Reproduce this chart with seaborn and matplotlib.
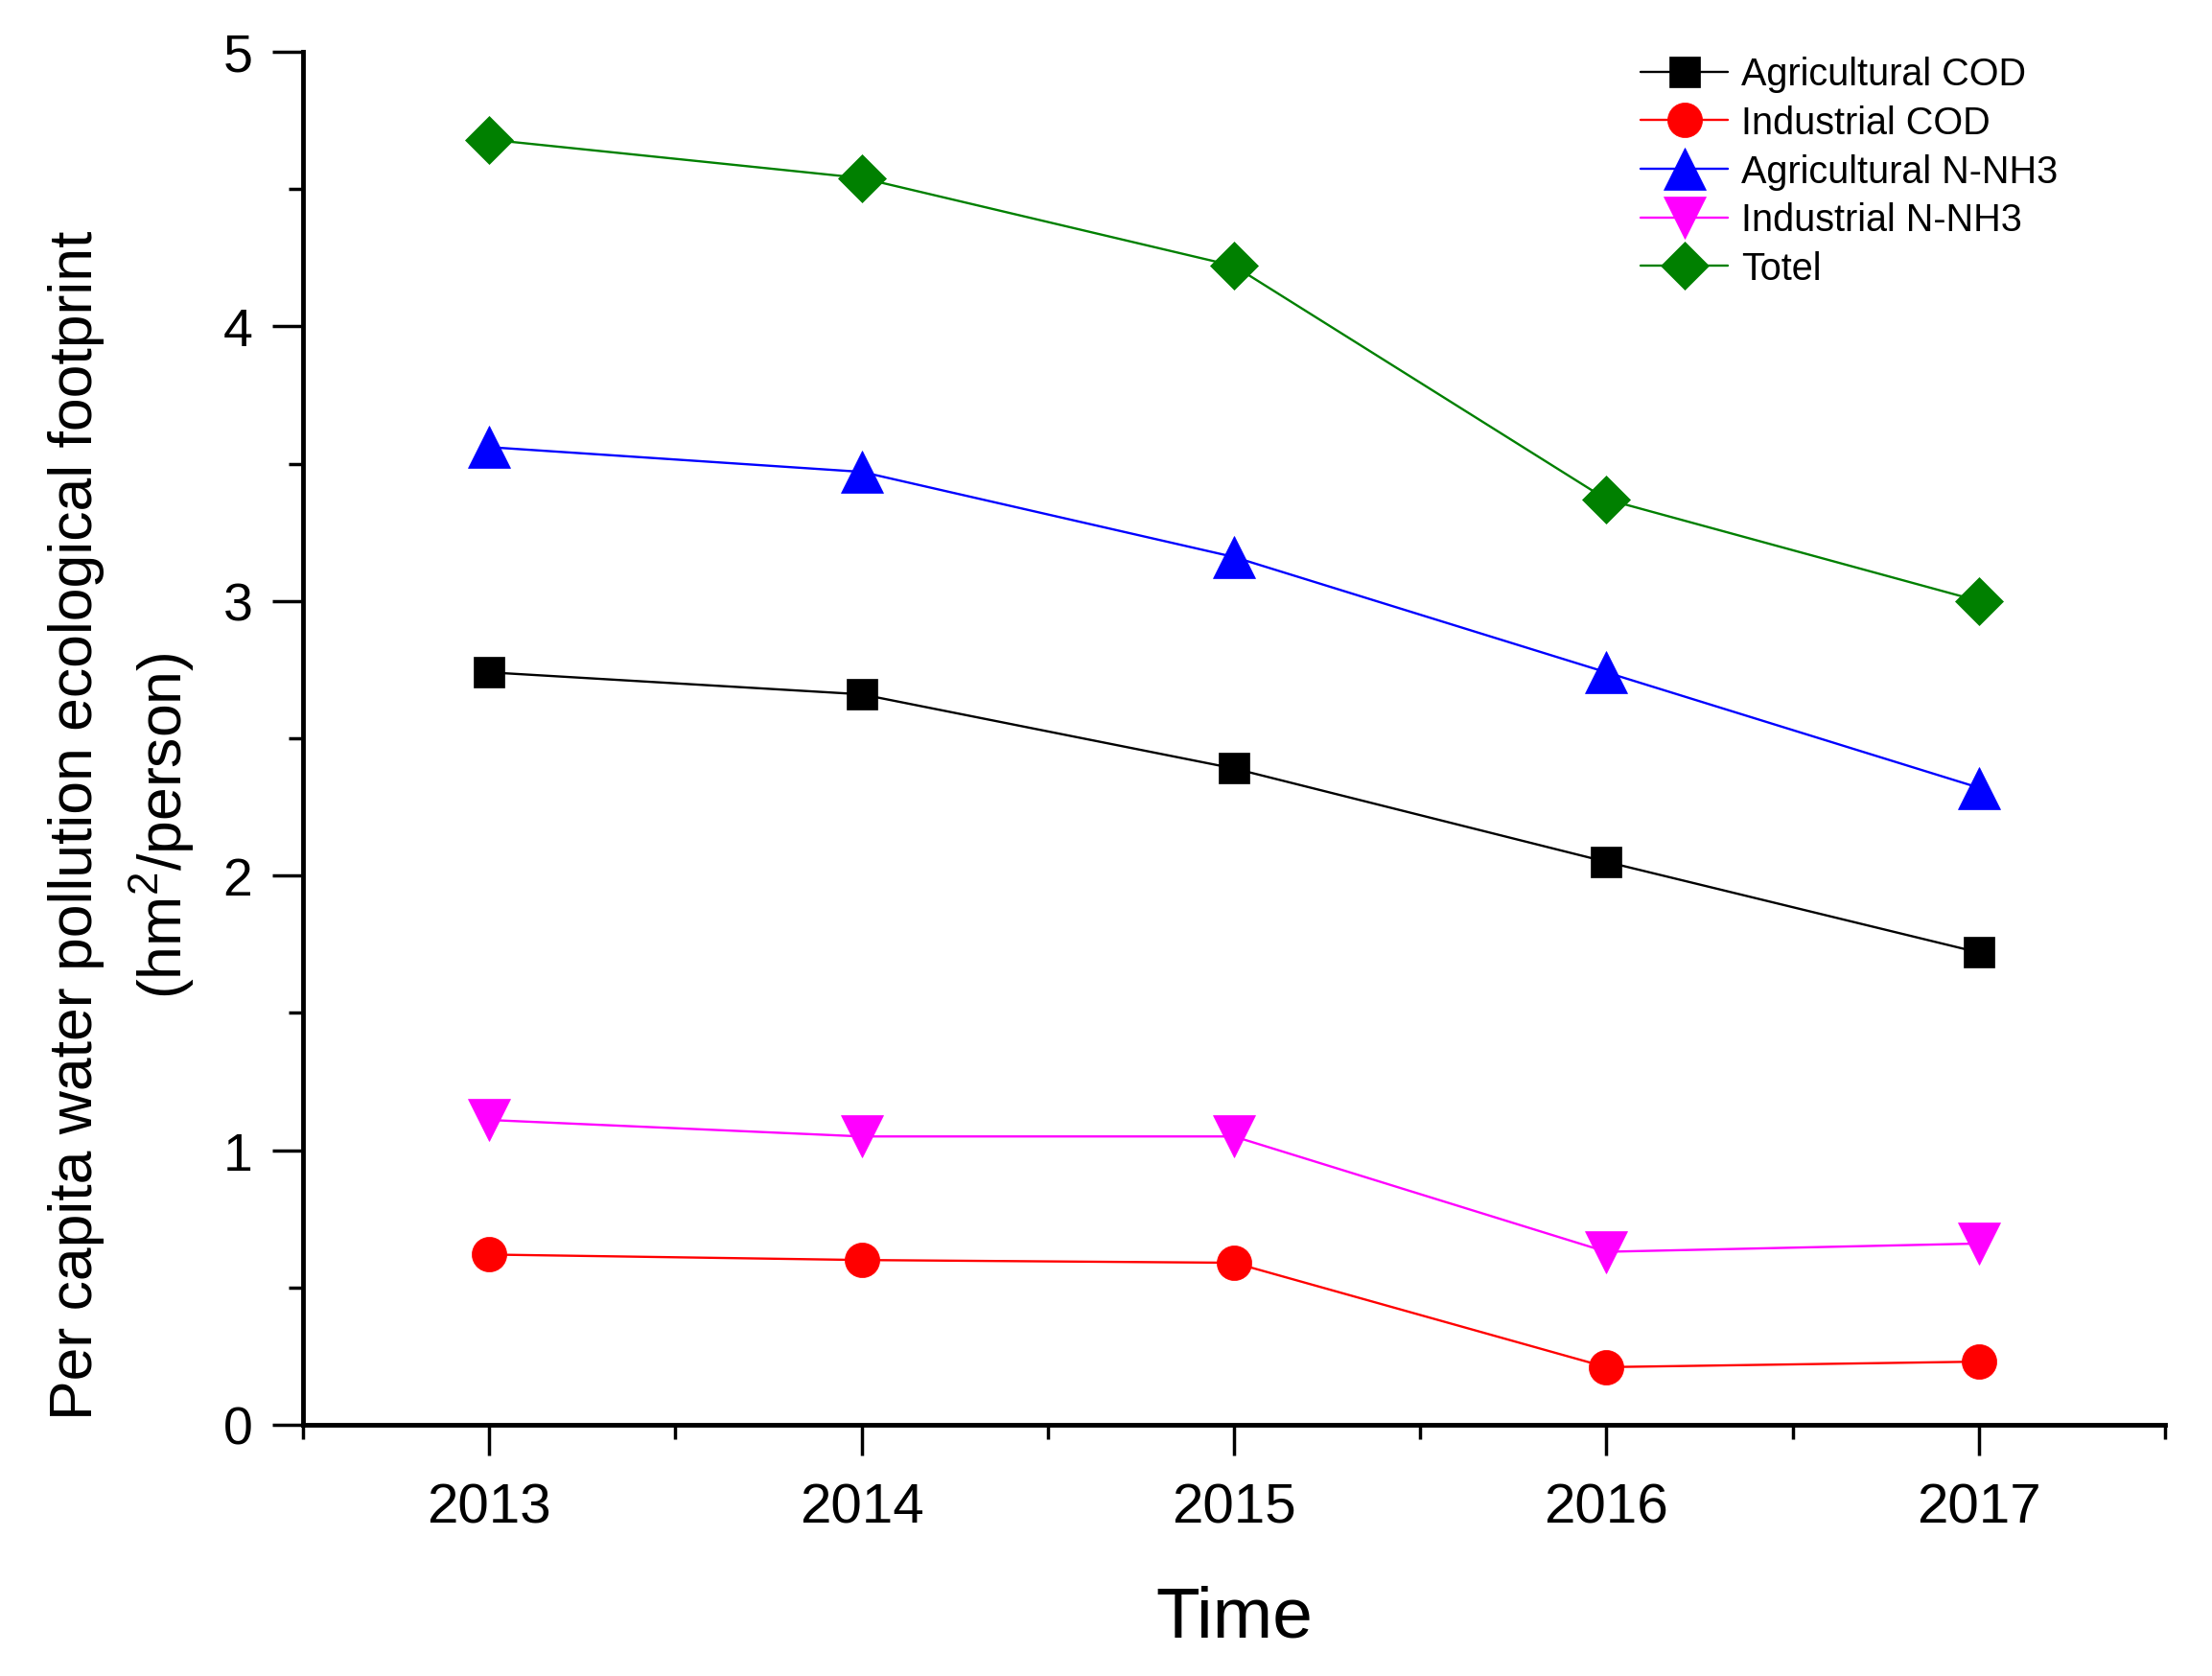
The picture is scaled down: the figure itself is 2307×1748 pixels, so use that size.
import pandas as pd
import matplotlib.pyplot as plt
import seaborn as sns
from matplotlib.ticker import MultipleLocator

# ==========================
# Data
# ==========================
years = [2013, 2014, 2015, 2016, 2017]
agri_cod = [2.74, 2.66, 2.39, 2.05, 1.72]
ind_cod = [0.62, 0.60, 0.59, 0.21, 0.23]
agri_nh3 = [3.56, 3.47, 3.16, 2.74, 2.32]
ind_nh3 = [1.11, 1.05, 1.05, 0.63, 0.66]
totel = [4.68, 4.54, 4.22, 3.37, 3.00]

series_names = ["Agricultural COD", "Industrial COD", "Agricultural N-NH3",
                "Industrial N-NH3", "Totel"]
series_values = [agri_cod, ind_cod, agri_nh3, ind_nh3, totel]

colors = ["#000000", "#ff0000", "#0000ff", "#ff00ff", "#008000"]
markers = ["s", "o", "^", "v", "D"]
msizes = [23, 26, 31, 31, 25]

df = pd.DataFrame({
    "year": years * len(series_names),
    "value": sum(series_values, []),
    "series": [n for n in series_names for _ in years],
})

# ==========================
# Style
# ==========================
sns.set_style("ticks")
plt.rcParams["font.family"] = ["Liberation Sans", "DejaVu Sans"]
plt.rcParams["mathtext.default"] = "regular"
for key in ["text.color", "axes.labelcolor", "xtick.color", "ytick.color"]:
    plt.rcParams[key] = "black"

fig = plt.figure(figsize=(23.07, 17.49), dpi=100)
ax = fig.add_axes([0.137, 0.1498, 0.8417, 0.8188])

for name, col, mk, ms in zip(series_names, colors, markers, msizes):
    sns.lineplot(data=df[df["series"] == name], x="year", y="value",
                 color=col, marker=mk, markersize=ms, linewidth=1.7,
                 markeredgecolor=col, markeredgewidth=0.5,
                 label=name, ax=ax)

ax.set_xlim(2012.5, 2017.5)
ax.set_ylim(0, 5)
ax.set_xticks(years)
ax.set_xticklabels([str(y) for y in years])
ax.set_yticks([0, 1, 2, 3, 4, 5])
ax.xaxis.set_minor_locator(MultipleLocator(0.5))
ax.yaxis.set_minor_locator(MultipleLocator(0.5))

sns.despine(ax=ax)
for side in ["left", "bottom"]:
    ax.spines[side].set_linewidth(3.5)
    ax.spines[side].set_color("black")

ax.tick_params(which="major", direction="out", length=23, width=2.5,
               color="black", pad=15)
ax.tick_params(which="minor", direction="out", length=11, width=2.5,
               color="black")
ax.tick_params(axis="x", labelsize=42, pad=20)
ax.tick_params(axis="y", labelsize=40)

ax.set_xlabel("Time", fontsize=54)
ax.set_ylabel("Per capita water pollution ecological footprint\n(hm$^2$/person)",
              fontsize=45, linespacing=1.45)
ax.xaxis.set_label_coords(0.5, -0.1165)
ax.yaxis.set_label_coords(-0.057, 0.437)

leg = ax.legend(loc="upper left", bbox_to_anchor=(0.7417, 0.966),
                bbox_transform=fig.transFigure, frameon=False, fontsize=28.5,
                handlelength=2.3, handletextpad=0.35, labelspacing=0.32,
                borderpad=0, borderaxespad=0)

fig.savefig("out.png", dpi=100)
plt.close()
